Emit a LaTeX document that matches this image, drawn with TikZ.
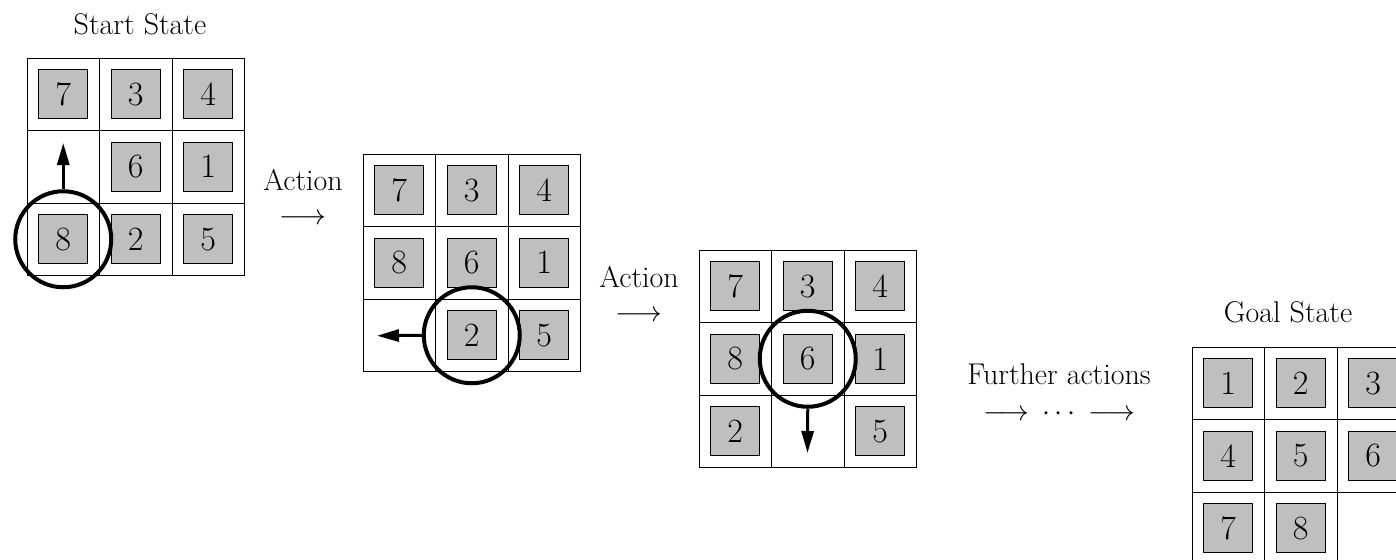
\documentclass[tikz,border=0pt]{standalone}
\usepackage{amsmath}
\usepackage{tikz}
\usetikzlibrary{arrows.meta,positioning}

\definecolor{tilegray}{gray}{0.75}

\newcommand{\board}[3]{%
  \begin{scope}[shift={#2}]
    \foreach \c in {0,1,2}
      \foreach \r in {0,1,2}
        \node[cell] (#1-\r\c) at (36.25+72.5*\c,36.25+72.5*\r) {};
    \foreach \n/\r/\c in {#3}
      \node[tile] (#1-t\n) at (#1-\r\c) {\n};
  \end{scope}}

\begin{document}
\begin{tikzpicture}[x=0.5pt,y=-0.5pt]
\tikzset{
  cell/.style={draw,minimum size=36.25pt,inner sep=0pt,line width=0.5pt},
  tile/.style={draw,fill=tilegray,minimum size=24.5pt,inner sep=0pt,line width=0.5pt,
    font=\fontsize{17}{20}\selectfont},
  pick/.style={draw,circle,minimum size=48pt,inner sep=0pt,line width=2pt},
  move/.style={line width=1.5pt,-{Triangle[length=11pt,width=6pt]}},
  label/.style={font=\fontsize{15}{18}\selectfont,inner sep=0pt},
}
\useasboundingbox (0,0) rectangle (1396,559);

% the four boards
\board{s}{(27,58)}{7/0/0,3/0/1,4/0/2,6/1/1,1/1/2,8/2/0,2/2/1,5/2/2}
\board{a}{(363,154)}{7/0/0,3/0/1,4/0/2,8/1/0,6/1/1,1/1/2,2/2/1,5/2/2}
\board{b}{(699,250)}{7/0/0,3/0/1,4/0/2,8/1/0,6/1/1,1/1/2,2/2/0,5/2/2}
\board{g}{(1192,347)}{1/0/0,2/0/1,3/0/2,4/1/0,5/1/1,6/1/2,7/2/0,8/2/1}

% moved tiles
\node[pick] (p1) at (s-20) {};
\coordinate (m1) at (63.25,143);
\draw[move] (p1.north) -- (m1);

\node[pick] (p2) at (a-21) {};
\coordinate (m2) at (377,335.75);
\draw[move] (p2.west) -- (m2);

\node[pick] (p3) at (b-11) {};
\coordinate (m3) at (807.5,453);
\draw[move] (p3.south) -- (m3);

% labels
\node[label] (start) at (140,24) {Start State};
\node[label] (goal) at (1288,312) {Goal State};
\node[label] (act1) at (303,180) {Action};
\node[label,below=11pt of act1] (arr1) {$\longrightarrow$};
\node[label] (act2) at (639,277) {Action};
\node[label,below=11pt of act2] (arr2) {$\longrightarrow$};
\node[label] (more) at (1059,374) {Further actions};
\node[label,below=11pt of more] (arr3) {$\longrightarrow\,\cdots\,\longrightarrow$};
\end{tikzpicture}
\end{document}
